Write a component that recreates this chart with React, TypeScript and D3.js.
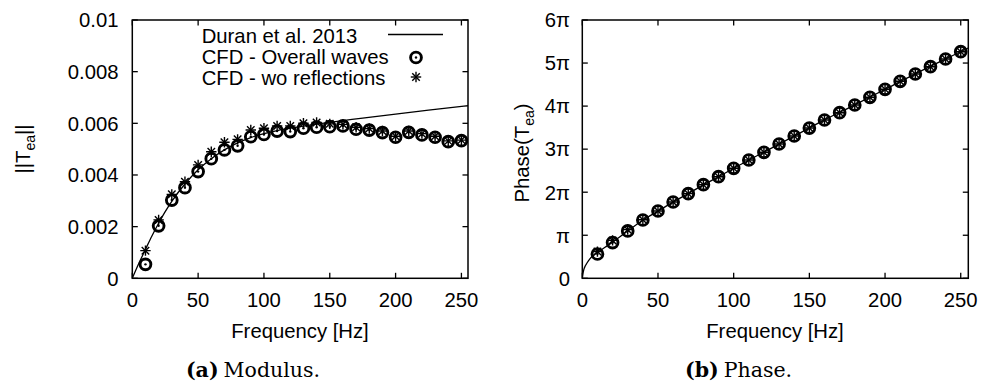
import React from "react";
import * as d3 from "d3";

// ---------- data ----------
const freqs = [10, 20, 30, 40, 50, 60, 70, 80, 90, 100, 110, 120, 130, 140, 150, 160, 170, 180, 190, 200, 210, 220, 230, 240, 250];

// Modulus |T_ea|
const modOverall = [0.00054, 0.00203, 0.00303, 0.00351, 0.00413, 0.00463, 0.00497, 0.00513, 0.00548, 0.00557, 0.0057, 0.00568, 0.00581, 0.00585, 0.00587, 0.0059, 0.00577, 0.00574, 0.00564, 0.00546, 0.00565, 0.00555, 0.00546, 0.00529, 0.00533];
const modNoRefl = [0.00107, 0.00226, 0.00325, 0.00374, 0.00439, 0.0049, 0.00527, 0.00538, 0.00574, 0.00581, 0.0059, 0.0059, 0.006, 0.00603, 0.00598, 0.00596, 0.00585, 0.0058, 0.0057, 0.0055, 0.0057, 0.0056, 0.0055, 0.00532, 0.00535];
const duranModF = [0, 5, 10, 15, 20, 25, 30, 40, 50, 60, 70, 80, 90, 100, 110, 120, 130, 140, 150, 175, 200, 225, 255];
const duranModV = [0, 0.00058, 0.00112, 0.00165, 0.00213, 0.00258, 0.00298, 0.00365, 0.0042, 0.00463, 0.00497, 0.00524, 0.00545, 0.0056, 0.00572, 0.00581, 0.00589, 0.00597, 0.00604, 0.0062, 0.00636, 0.00651, 0.00668];

// Phase (in units of pi)
const phaseOverall = [0.565, 0.83, 1.1, 1.354, 1.563, 1.772, 1.966, 2.175, 2.36, 2.555, 2.748, 2.927, 3.12, 3.305, 3.49, 3.677, 3.847, 4.026, 4.204, 4.39, 4.576, 4.746, 4.915, 5.094, 5.264];
const phaseNoRefl = [0.62, 0.88, 1.13, 1.36, 1.565, 1.772, 1.966, 2.175, 2.36, 2.555, 2.748, 2.927, 3.12, 3.305, 3.49, 3.677, 3.847, 4.026, 4.204, 4.39, 4.576, 4.746, 4.915, 5.094, 5.264];
const duranPhaseF = [0, 0.5, 1, 2, 3, 5, 7, 10, 15, 20, 30, 40, 50, 60, 70, 80, 90, 100, 120, 140, 160, 180, 200, 220, 240, 255];
const duranPhaseV = [0, 0.12, 0.2, 0.29, 0.35, 0.45, 0.52, 0.6, 0.72, 0.84, 1.1, 1.35, 1.56, 1.77, 1.97, 2.17, 2.36, 2.555, 2.93, 3.305, 3.68, 4.03, 4.39, 4.75, 5.095, 5.35];

const xTicks = [0, 50, 100, 150, 200, 250];
const modTicks = [0, 0.002, 0.004, 0.006, 0.008, 0.01];
const modTickLabels = ["0", "0.002", "0.004", "0.006", "0.008", "0.01"];
const phaseTicks = [0, 1, 2, 3, 4, 5, 6];
const phaseTickLabels = ["0", "π", "2π", "3π", "4π", "5π", "6π"];

const legendLabels = ["Duran et al. 2013", "CFD - Overall waves", "CFD - wo reflections"];

const SANS = "'Liberation Sans', Arial, Helvetica, sans-serif";
const SERIF = "'DejaVu Serif', 'Liberation Serif', serif";
const FS = 20.3;

function CircleDot({ x, y }: { x: number; y: number }) {
  return (
    <g>
      <circle cx={x} cy={y} r={5.4} fill="none" stroke="#000" strokeWidth={2.9} />
      <circle cx={x} cy={y} r={1.2} fill="#000" />
    </g>
  );
}

function Star({ x, y }: { x: number; y: number }) {
  const s = 5.2;
  const d = s * 0.72;
  return (
    <g stroke="#000" strokeWidth={1.4}>
      <line x1={x - s} y1={y} x2={x + s} y2={y} />
      <line x1={x} y1={y - s} x2={x} y2={y + s} />
      <line x1={x - d} y1={y - d} x2={x + d} y2={y + d} />
      <line x1={x - d} y1={y + d} x2={x + d} y2={y - d} />
    </g>
  );
}

function Frame({ x0, x1, y0, y1, xs, ys, xTickVals, yTickVals }: any) {
  const tl = 5.5;
  return (
    <g stroke="#000" strokeWidth={1.3} fill="none">
      {xTickVals.map((t: number, i: number) => (
        <g key={"xt" + i}>
          <line x1={xs(t)} x2={xs(t)} y1={y0} y2={y0 - tl} />
          <line x1={xs(t)} x2={xs(t)} y1={y1} y2={y1 + tl} />
        </g>
      ))}
      {yTickVals.map((t: number, i: number) => (
        <g key={"yt" + i}>
          <line x1={x0} x2={x0 + tl} y1={ys(t)} y2={ys(t)} />
          <line x1={x1} x2={x1 - tl} y1={ys(t)} y2={ys(t)} />
        </g>
      ))}
      <rect x={x0} y={y1} width={x1 - x0} height={y0 - y1} strokeWidth={1.5} />
    </g>
  );
}

export default function App() {
  // Left panel
  const L = { x0: 132.3, x1: 468, y0: 278.3, y1: 20 };
  const xL = d3.scaleLinear().domain([0, 255]).range([L.x0, L.x1]);
  const yL = d3.scaleLinear().domain([0, 0.01]).range([L.y0, L.y1]);
  // Right panel
  const R = { x0: 582.3, x1: 968.3, y0: 278.3, y1: 20 };
  const xR = d3.scaleLinear().domain([0, 255]).range([R.x0, R.x1]);
  const yR = d3.scaleLinear().domain([0, 6]).range([R.y0, R.y1]);

  const lineL = d3
    .line<number>()
    .x((_, i) => xL(duranModF[i]))
    .y((v) => yL(v))
    .curve(d3.curveMonotoneX);
  const lineR = d3
    .line<number>()
    .x((_, i) => xR(duranPhaseF[i]))
    .y((v) => yR(v))
    .curve(d3.curveMonotoneX);

  return (
    <svg
      width={982}
      height={381}
      style={{ position: "absolute", left: 0, top: 0, background: "#fff" }}
      fontFamily={SANS}
    >
      <rect x={0} y={0} width={982} height={381} fill="#fff" />
      <defs>
        <clipPath id="clipL">
          <rect x={L.x0} y={L.y1} width={L.x1 - L.x0} height={L.y0 - L.y1} />
        </clipPath>
        <clipPath id="clipR">
          <rect x={R.x0} y={R.y1} width={R.x1 - R.x0} height={R.y0 - R.y1} />
        </clipPath>
      </defs>

      {/* ---------- Left: modulus ---------- */}
      <g clipPath="url(#clipL)">
        <path d={lineL(duranModV) || ""} fill="none" stroke="#000" strokeWidth={1.3} />
        {freqs.map((f, i) => (
          <CircleDot key={"lc" + i} x={xL(f)} y={yL(modOverall[i])} />
        ))}
        {freqs.map((f, i) => (
          <Star key={"ls" + i} x={xL(f)} y={yL(modNoRefl[i])} />
        ))}
      </g>
      <Frame {...L} xs={xL} ys={yL} xTickVals={xTicks} yTickVals={modTicks} />
      {modTicks.map((t, i) => (
        <text key={"ly" + i} x={118.5} y={yL(t)} dy="0.36em" textAnchor="end" fontSize={FS}>
          {modTickLabels[i]}
        </text>
      ))}
      {xTicks.map((t, i) => (
        <text key={"lx" + i} x={xL(t)} y={307} textAnchor="middle" fontSize={FS}>
          {t}
        </text>
      ))}
      <text x={300} y={338} textAnchor="middle" fontSize={FS}>
        Frequency [Hz]
      </text>
      <text transform="translate(29.5,149) rotate(-90)" textAnchor="middle" fontSize={FS}>
        ||T
        <tspan fontSize={14} dy={5}>ea</tspan>
        <tspan dy={-5}>||</tspan>
      </text>

      {/* legend */}
      {legendLabels.map((s, i) => (
        <text key={"lg" + i} x={201.7} y={36 + i * 21} dy="0.36em" fontSize={FS}>
          {s}
        </text>
      ))}
      <line x1={388} x2={443} y1={34.5} y2={34.5} stroke="#000" strokeWidth={1.3} />
      <CircleDot x={416} y={57.5} />
      <Star x={416} y={77} />

      {/* ---------- Right: phase ---------- */}
      <g clipPath="url(#clipR)">
        <path d={lineR(duranPhaseV) || ""} fill="none" stroke="#000" strokeWidth={1.3} />
        {freqs.map((f, i) => (
          <CircleDot key={"rc" + i} x={xR(f)} y={yR(phaseOverall[i])} />
        ))}
        {freqs.map((f, i) => (
          <Star key={"rs" + i} x={xR(f)} y={yR(phaseNoRefl[i])} />
        ))}
      </g>
      <Frame {...R} xs={xR} ys={yR} xTickVals={xTicks} yTickVals={phaseTicks} />
      {phaseTicks.map((t, i) => (
        <text key={"ry" + i} x={570} y={yR(t)} dy="0.36em" textAnchor="end" fontSize={FS}>
          {phaseTickLabels[i]}
        </text>
      ))}
      {xTicks.map((t, i) => (
        <text key={"rx" + i} x={xR(t)} y={307} textAnchor="middle" fontSize={FS}>
          {t}
        </text>
      ))}
      <text x={775} y={338} textAnchor="middle" fontSize={FS}>
        Frequency [Hz]
      </text>
      <text transform="translate(529,153) rotate(-90)" textAnchor="middle" fontSize={FS}>
        Phase(T
        <tspan fontSize={14} dy={5}>ea</tspan>
        <tspan dy={-5}>)</tspan>
      </text>

      {/* captions */}
      <text x={253} y={376.5} textAnchor="middle" fontFamily={SERIF} fontSize={20.5}>
        <tspan fontWeight="bold">(a)</tspan>
        <tspan dx={5}>Modulus.</tspan>
      </text>
      <text x={738.5} y={376.5} textAnchor="middle" fontFamily={SERIF} fontSize={20.5}>
        <tspan fontWeight="bold">(b)</tspan>
        <tspan dx={5}>Phase.</tspan>
      </text>
    </svg>
  );
}
